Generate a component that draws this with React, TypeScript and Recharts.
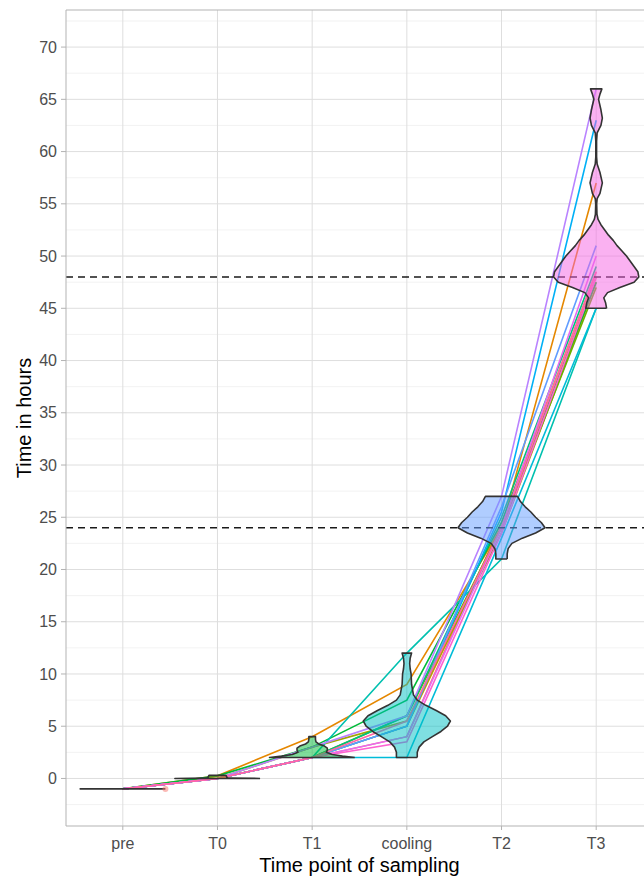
import { ComposedChart, Line, Area, XAxis, YAxis, CartesianGrid, ReferenceLine, ReferenceArea, Label } from "recharts";

// x axis: sampling time points (positioned at 0..5 on a numeric axis)
const categories = ["pre", "T0", "T1", "cooling", "T2", "T3"];
const categoryTicks = [0, 1, 2, 3, 4, 5];
const hourTicks = [0, 5, 10, 15, 20, 25, 30, 35, 40, 45, 50, 55, 60, 65, 70];
const minorHourTicks = [-2.5, 2.5, 7.5, 12.5, 17.5, 22.5, 27.5, 32.5, 37.5, 42.5, 47.5, 52.5, 57.5, 62.5, 67.5, 72.5];
const thresholdHours = [24, 48];

// hours per subject: pre, T0, T1, cooling, T2, T3
const subjectHours = [
  [-1, 0, 2, 4, 24.5, 48.5],
  [-1, 0.25, 4, 9, 24, 57],
  [-1, 0, 2, 5, 24, 48],
  [-1, 0, 3, 5.5, 23.5, 47.5],
  [-1, 0, 2, 6, 24, 47],
  [-1, 0.25, 3, 7.5, 24.5, 47.5],
  [-1, 0, 2, 6, 25, 49],
  [-1, 0, 2, 12, 21, 45],
  [-1, 0, 2, 2, 23, 45],
  [-1, 0, 2, 5, 25.5, 63],
  [-1, 0, 2, 5, 26, 51],
  [-1, 0, 3, 6, 27, 66],
  [-1, 0, 2, 4, 24, 50],
  [-1, 0, 2, 3.5, 23.5, 48],
  [-1, 0, 2, 5.5, 24, 48.5],
];
const subjectColors = [
  "#F8766D", "#E58700", "#C99800", "#A3A500", "#6BB100", "#00BA38", "#00BF7D", "#00C0AF",
  "#00BCD8", "#00B0F6", "#619CFF", "#B983FF", "#E76BF3", "#FD61D1", "#FF67A4",
];

// violin outlines: [hours, half width]
const violinPre = [[-1, 0.45]];
const violinT0 = [[0, 0.45], [0.03, 0.12], [0.1, 0.1], [0.2, 0.095], [0.3, 0.09]];
const violinT1 = [
  [2, 0.45], [2.15, 0.32], [2.3, 0.21], [2.5, 0.15], [2.7, 0.16], [2.9, 0.16], [3.1, 0.13],
  [3.3, 0.07], [3.5, 0.04], [3.75, 0.035], [4, 0.035],
];
const violinCooling = [
  [2, 0.11], [2.5, 0.11], [3, 0.13], [3.5, 0.18], [4, 0.27], [4.5, 0.36], [5, 0.43], [5.5, 0.46],
  [6, 0.41], [6.5, 0.31], [7, 0.2], [7.5, 0.11], [8, 0.07], [9, 0.05], [10, 0.045], [10.5, 0.035],
  [11, 0.03], [11.5, 0.035], [12, 0.05],
];
const violinT2 = [
  [21, 0.06], [21.5, 0.06], [22, 0.07], [22.5, 0.11], [23, 0.22], [23.5, 0.36], [24, 0.46],
  [24.5, 0.42], [25, 0.36], [25.5, 0.31], [26, 0.25], [26.5, 0.2], [27, 0.17],
];
const violinT3 = [
  [45, 0.11], [45.5, 0.1], [46, 0.08], [46.5, 0.12], [47, 0.25], [47.5, 0.4], [48, 0.45],
  [48.5, 0.44], [49, 0.4], [49.5, 0.36], [50, 0.32], [50.5, 0.27], [51, 0.22], [51.5, 0.18],
  [52, 0.13], [52.5, 0.09], [53, 0.05], [53.5, 0.02], [54, 0.008], [55, 0.005], [55.5, 0.01],
  [56, 0.04], [57, 0.065], [58, 0.04], [58.8, 0.01], [59.5, 0.004], [61, 0.004], [61.8, 0.01],
  [62.5, 0.05], [63.2, 0.065], [64, 0.05], [65, 0.025], [65.5, 0.04], [66, 0.06],
];
const violins = [violinPre, violinT0, violinT1, violinCooling, violinT2, violinT3];
const violinFills = ["#F8766D", "#B79F00", "#00BA38", "#00BFC4", "#619CFF", "#F564E3"];

const axisText = { fill: "#4D4D4D", fontSize: 16 };

export default function App() {
  const lineData = subjectHours.map((hours) => hours.map((y, i) => ({ y, x: i })));
  const areaData = violins.map((v, i) => v.map(([y, hw]) => ({ y, band: [i - hw, i + hw] })));
  const outlineData = violins.map((v, i) => {
    const right = v.map(([y, hw]) => ({ y, x: i + hw }));
    const left = [...v].reverse().map(([y, hw]) => ({ y, x: i - hw }));
    return [...right, ...left, right[0]];
  });

  return (
    <div
      style={{
        position: "absolute",
        left: 0,
        top: 0,
        width: 644,
        height: 879,
        overflow: "hidden",
        background: "#fff",
        fontFamily: "'Liberation Sans', Arial, sans-serif",
      }}
    >
      <ComposedChart layout="vertical" width={653} height={879} margin={{ top: 10, right: 0, bottom: 0, left: 0 }}>
        <CartesianGrid stroke="#EDEDED" strokeWidth={0.7} vertical={false} horizontalValues={minorHourTicks} />
        <CartesianGrid stroke="#DEDEDE" strokeWidth={1} verticalValues={categoryTicks} horizontalValues={hourTicks} />
        <XAxis
          type="number"
          domain={[-0.6, 5.6]}
          allowDataOverflow
          ticks={categoryTicks}
          interval={0}
          tickFormatter={(v) => categories[v]}
          height={53}
          tickSize={4}
          tickMargin={8}
          axisLine={false}
          tickLine={{ stroke: "#B3B3B3" }}
          tick={axisText}
        >
          <Label value="Time point of sampling" position="insideBottom" offset={7} style={{ fontSize: 20, fill: "#000" }} />
        </XAxis>
        <YAxis
          type="number"
          dataKey="y"
          reversed
          domain={[-4.55, 73.55]}
          allowDataOverflow
          ticks={hourTicks}
          interval={0}
          width={66}
          tickSize={5}
          tickMargin={4}
          axisLine={false}
          tickLine={{ stroke: "#B3B3B3" }}
          tick={axisText}
        >
          <Label
            value="Time in hours"
            angle={-90}
            position="insideLeft"
            offset={24}
            style={{ fontSize: 20, fill: "#000", textAnchor: "middle" }}
          />
        </YAxis>

        {lineData.map((d, i) => (
          <Line
            key={"s" + i}
            data={d}
            dataKey="x"
            type="linear"
            stroke={subjectColors[i]}
            strokeWidth={1.6}
            dot={false}
            activeDot={false}
            isAnimationActive={false}
            zIndex={100}
          />
        ))}

        {thresholdHours.map((h) => (
          <ReferenceLine key={"h" + h} y={h} stroke="#1A1A1A" strokeWidth={1.6} strokeDasharray="7 5" zIndex={150} />
        ))}

        {areaData.map((d, i) => (
          <Area
            key={"v" + i}
            data={d}
            dataKey="band"
            type="linear"
            fill={violinFills[i]}
            fillOpacity={0.5}
            stroke="none"
            activeDot={false}
            isAnimationActive={false}
            zIndex={200}
          />
        ))}
        {outlineData.map((d, i) => (
          <Line
            key={"o" + i}
            data={d}
            dataKey="x"
            type="linear"
            stroke="#333333"
            strokeWidth={1.6}
            strokeLinejoin="round"
            dot={false}
            activeDot={false}
            isAnimationActive={false}
            zIndex={250}
          />
        ))}

        <ReferenceArea x1={-0.6} x2={5.6} y1={-4.55} y2={73.55} fill="none" stroke="#B3B3B3" strokeWidth={1} zIndex={300} />
      </ComposedChart>
    </div>
  );
}
